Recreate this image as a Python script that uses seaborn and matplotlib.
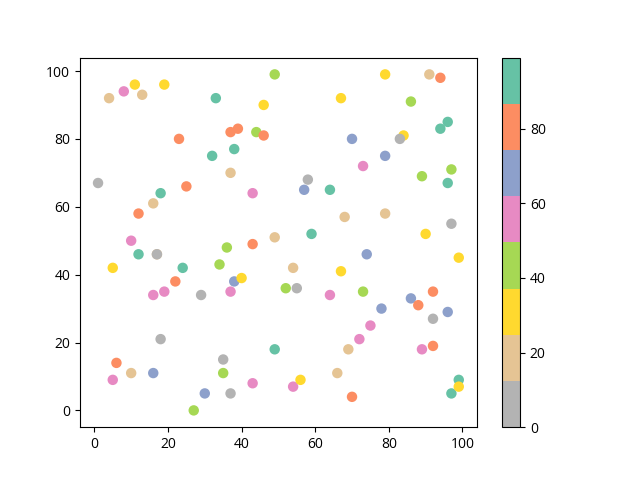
import numpy as np
import pandas as pd
import matplotlib
matplotlib.use("Agg")
import matplotlib.pyplot as plt
import seaborn as sns
from matplotlib.colors import Normalize
from matplotlib.cm import ScalarMappable

plt.rcParams['font.family'] = ['Open Sans', 'DejaVu Sans']

# values
x_vals = [1, 4, 8, 11, 13, 19, 33, 49, 46, 23,
          37, 39, 44, 46, 32, 38, 18, 25, 37, 43,
          12, 16, 10, 12, 17, 17, 5, 24, 22, 16,
          19, 29, 36, 34, 37, 38, 40, 43, 49, 18,
          6, 10, 16, 5, 35, 35, 30, 37, 27, 43,
          49, 54, 56, 52, 55, 54, 64, 67, 68, 59,
          57, 58, 64, 67, 70, 73, 79, 79, 84, 83,
          86, 91, 94, 94, 96, 89, 97, 96, 97, 90,
          99, 74, 73, 79, 72, 75, 78, 86, 88, 92,
          92, 96, 89, 92, 69, 66, 70, 97, 99, 99]
y_vals = [67, 92, 94, 96, 93, 96, 92, 99, 90, 80,
          82, 83, 82, 81, 75, 77, 64, 66, 70, 64,
          58, 61, 50, 46, 46, 46, 42, 42, 38, 34,
          35, 34, 48, 43, 35, 38, 39, 49, 51, 21,
          14, 11, 11, 9, 15, 11, 5, 5, 0, 8,
          18, 7, 9, 36, 36, 42, 34, 41, 57, 52,
          65, 68, 65, 92, 80, 72, 75, 99, 81, 80,
          91, 99, 98, 83, 85, 69, 71, 67, 55, 52,
          45, 46, 35, 58, 21, 25, 30, 33, 31, 35,
          27, 29, 18, 19, 18, 11, 4, 5, 9, 7]
# colour value of each point (bins of the 8-colour scale)
c_vals = [6, 19, 56, 31, 19, 31, 93, 43, 31, 80,
          80, 80, 43, 80, 93, 93, 93, 80, 19, 56,
          80, 19, 56, 93, 19, 6, 31, 93, 80, 56,
          56, 6, 43, 43, 56, 68, 31, 80, 19, 6,
          80, 19, 68, 56, 6, 43, 68, 6, 43, 56,
          93, 56, 31, 43, 6, 19, 56, 31, 19, 93,
          68, 6, 93, 31, 68, 56, 68, 31, 31, 6,
          43, 19, 80, 93, 93, 43, 43, 93, 6, 31,
          31, 68, 43, 19, 56, 56, 68, 68, 80, 80,
          6, 68, 56, 80, 19, 19, 80, 93, 93, 31]

df = pd.DataFrame({"x": x_vals, "y": y_vals, "c": c_vals})

cmap = plt.get_cmap("Set2_r")
norm = Normalize(vmin=0, vmax=99)

fig, ax = plt.subplots(figsize=(6.4, 4.8), dpi=100)
sns.scatterplot(data=df, x="x", y="y", hue="c", palette=cmap, hue_norm=norm,
                s=36, edgecolor="face", linewidth=1.5, legend=False, ax=ax)
ax.set_xlabel("")
ax.set_ylabel("")

sm = ScalarMappable(norm=norm, cmap=cmap)
sm.set_array([])
fig.colorbar(sm, ax=ax)

fig.savefig("out.png", dpi=100)
